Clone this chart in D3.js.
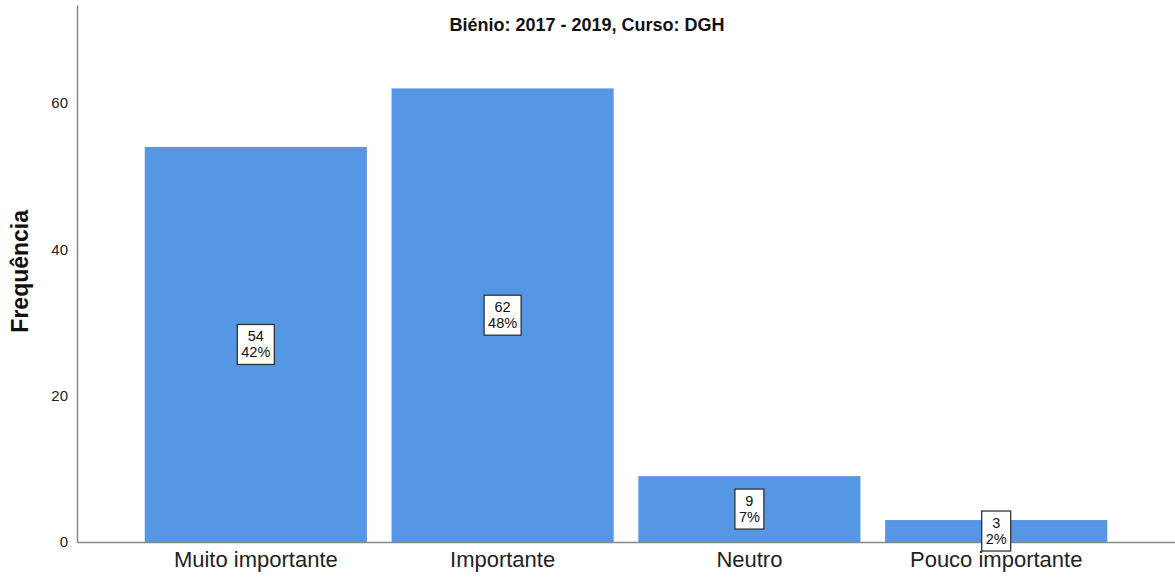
<!DOCTYPE html>
<head>
<meta charset="utf-8">
<style>
body { margin: 0; background: #fff; }
svg { display: block; }
.title { font: bold 18px Arial, "Liberation Sans", sans-serif; text-anchor: middle; fill: #111; }
.ylabel { font: bold 23px Arial, "Liberation Sans", sans-serif; text-anchor: middle; fill: #111; }
.tick text { font: 15px Arial, "Liberation Sans", sans-serif; fill: #222; }
.xaxis .tick text { font-size: 22px; fill: #222; }
.domain { stroke: #888; stroke-width: 1.5px; }
.lbl { font: 14.5px Arial, "Liberation Sans", sans-serif; text-anchor: middle; fill: #111; }
</style>
</head>
<body>
<svg width="1175" height="580"></svg>
<script src="https://d3js.org/d3.v7.min.js"></script>
<script>
var categories = ["Muito importante", "Importante", "Neutro", "Pouco importante"];
var counts = [54, 62, 9, 3];
var percents = ["42%", "48%", "7%", "2%"];
var yTicks = [0, 20, 40, 60];

var svg = d3.select("svg"),
    margin = {top: 5, right: 0, bottom: 38, left: 77},
    width = +svg.attr("width") - margin.left - margin.right,
    height = +svg.attr("height") - margin.top - margin.bottom,
    g = svg.append("g").attr("transform", "translate(" + margin.left + "," + margin.top + ")");

var x = d3.scaleBand()
    .domain(categories)
    .range([0, width])
    .paddingInner(0.1)
    .paddingOuter(0.2745);

var y = d3.scaleLinear()
    .domain([0, 73.4])
    .range([height, 0]);

var data = categories.map(function(c, i) { return {cat: c, n: counts[i], p: percents[i]}; });

g.selectAll(".bar")
    .data(data)
  .enter().append("rect")
    .attr("class", "bar")
    .attr("x", function(d) { return x(d.cat); })
    .attr("y", function(d) { return y(d.n); })
    .attr("width", x.bandwidth())
    .attr("height", function(d) { return height - y(d.n); })
    .style("fill", "#5596e5");

// axes (no tick marks, like the original)
g.append("g")
    .attr("class", "yaxis")
    .call(d3.axisLeft(y).tickValues(yTicks).tickSize(0).tickPadding(9));

g.append("g")
    .attr("class", "xaxis")
    .attr("transform", "translate(0," + height + ")")
    .call(d3.axisBottom(x).tickSize(0).tickPadding(9));

// value boxes in the middle of each bar
var lab = g.selectAll(".lab")
    .data(data)
  .enter().append("g")
    .attr("class", "lab")
    .attr("transform", function(d) {
      return "translate(" + (x(d.cat) + x.bandwidth() / 2) + "," + y(d.n / 2) + ")";
    });

lab.each(function(d) {
  var el = d3.select(this);
  var t1 = el.append("text").attr("class", "lbl").attr("y", -3).text(d.n);
  var t2 = el.append("text").attr("class", "lbl").attr("y", 13).text(d.p);
  var w = Math.max(t1.node().getComputedTextLength(), t2.node().getComputedTextLength()) + 8;
  el.insert("rect", "text")
    .attr("x", -w / 2)
    .attr("y", -20)
    .attr("width", w)
    .attr("height", 40)
    .style("fill", "#fff")
    .style("stroke", "#333")
    .style("stroke-width", 1.3);
});

svg.append("text")
    .attr("class", "title")
    .attr("x", 587)
    .attr("y", 31)
    .text("Biénio: 2017 - 2019, Curso: DGH");

svg.append("text")
    .attr("class", "ylabel")
    .attr("transform", "translate(28," + (margin.top + y(37)) + ") rotate(-90)")
    .text("Frequência");
</script>
</body>
